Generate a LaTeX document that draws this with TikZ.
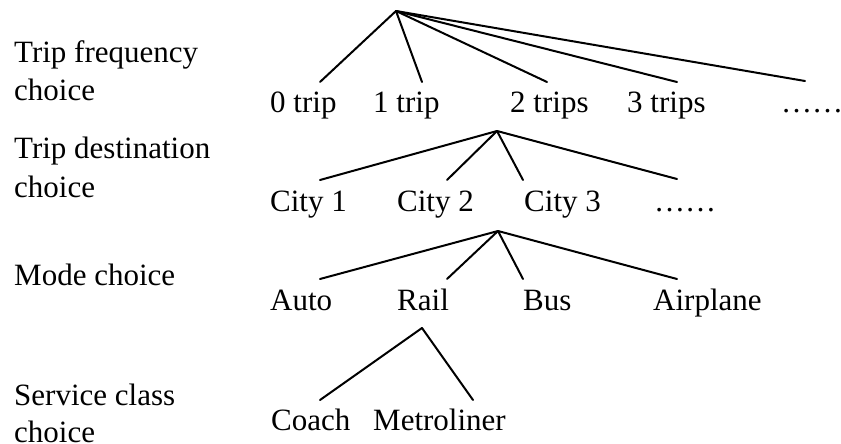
\documentclass[tikz,border=0pt]{standalone}
\usepackage{fontspec}
\setmainfont{Liberation Serif}
\begin{document}
\begin{tikzpicture}[x=1pt,y=-1pt,
  lbl/.style={anchor=base west,inner sep=0pt,font=\fontsize{31}{38}\selectfont},
  branch/.style={line width=2pt,line cap=round,line join=round}]
\useasboundingbox (0,0) rectangle (841,444);
% left labels
\node[lbl] (lf1) at (14,63) {Trip frequency};
\node[lbl] (lf2) at (14,100) {choice};
\node[lbl] (ld1) at (14,158) {Trip destination};
\node[lbl] (ld2) at (14,197) {choice};
\node[lbl] (lm) at (14,285) {Mode choice};
\node[lbl] (ls1) at (14,405) {Service class};
\node[lbl] (ls2) at (14,442) {choice};
% row 1
\node[lbl] (t0) at (270,112) {0 trip};
\node[lbl] (t1) at (373,112) {1 trip};
\node[lbl] (t2) at (510,112) {2 trips};
\node[lbl] (t3) at (627,112) {3 trips};
\node[lbl] (t4) at (781,112) {\makebox[58pt][l]{……}};
% row 2
\node[lbl] (c1) at (270,211) {City 1};
\node[lbl] (c2) at (397,211) {City 2};
\node[lbl] (c3) at (524,211) {City 3};
\node[lbl] (c4) at (654,211) {……};
% row 3
\node[lbl] (m1) at (270,310) {Auto};
\node[lbl] (m2) at (397,310) {Rail};
\node[lbl] (m3) at (523,310) {Bus};
\node[lbl] (m4) at (653,310) {Airplane};
% row 4
\node[lbl] (s1) at (271,430) {Coach};
\node[lbl] (s2) at (373,430) {Metroliner};
% apexes and line ends
\coordinate (a1) at (396,11);
\coordinate (e10) at (320,82);
\coordinate (e11) at (422,82);
\coordinate (e12) at (547,82);
\coordinate (e13) at (677,82);
\coordinate (e14) at (805,81);
\coordinate (a2) at (497,131);
\coordinate (e20) at (320,180);
\coordinate (e21) at (447,180);
\coordinate (e22) at (523,180);
\coordinate (e23) at (677,179);
\coordinate (a3) at (498,231);
\coordinate (e30) at (320,279);
\coordinate (e31) at (447,279);
\coordinate (e32) at (523,279);
\coordinate (e33) at (677,279);
\coordinate (a4) at (422,328);
\coordinate (e40) at (320,400);
\coordinate (e41) at (473,400);
\foreach \e in {e10,e11,e12,e13,e14} \draw[branch] (a1) -- (\e);
\foreach \e in {e20,e21,e22,e23} \draw[branch] (a2) -- (\e);
\foreach \e in {e30,e31,e32,e33} \draw[branch] (a3) -- (\e);
\foreach \e in {e40,e41} \draw[branch] (a4) -- (\e);
\end{tikzpicture}
\end{document}
